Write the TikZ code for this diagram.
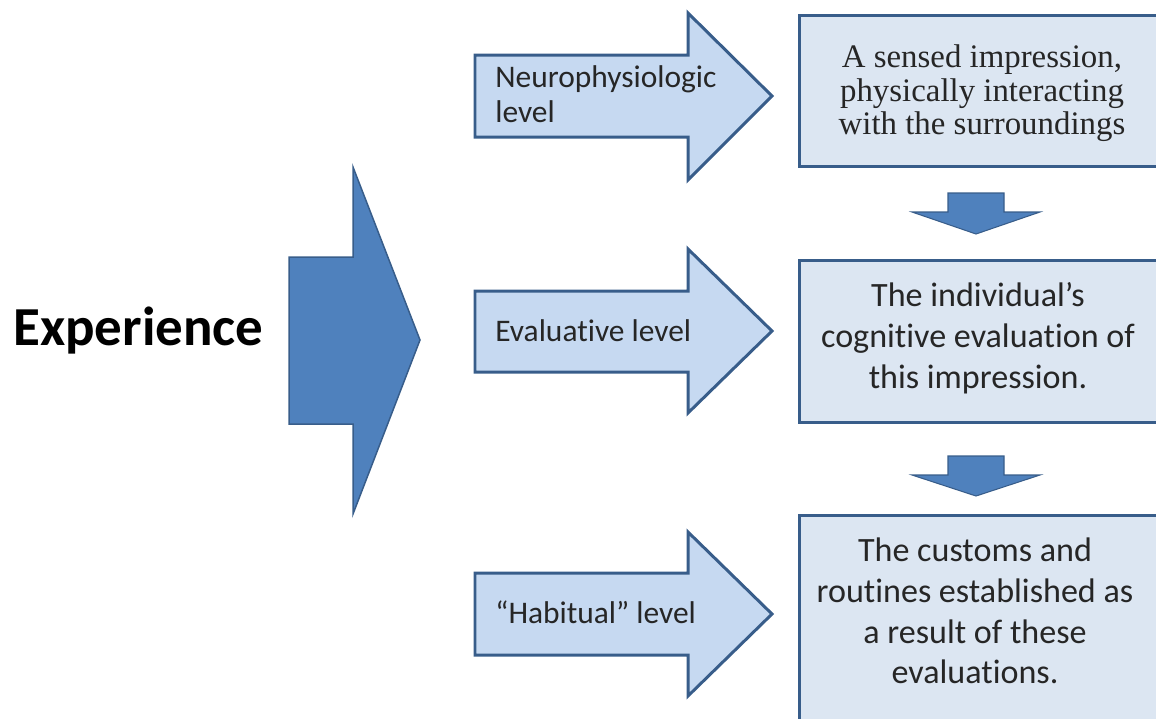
\documentclass[tikz,border=0pt]{standalone}
\usepackage{fontspec}
\usepackage{xcolor}
\usepackage{tikz}
\setmainfont{Carlito}[Ligatures={TeX,NoCommon}]
\newfontfamily\boxserif{Liberation Serif}
\definecolor{darkblue}{HTML}{4F81BD}
\definecolor{edgeblue}{HTML}{385D8A}
\definecolor{lightblue}{HTML}{C6D9F1}
\definecolor{paleblue}{HTML}{DCE6F2}

\begin{document}
\begin{tikzpicture}[x=0.02cm, y=0.02cm]
		\tikzstyle{every node}+=[inner sep=0pt]
		\tikzstyle{bigarrow}=[draw=edgeblue, line width=0.85pt, fill=darkblue, line join=miter]
		\tikzstyle{levelarrow}=[draw=edgeblue, line width=1.7pt, fill=lightblue, line join=miter]
		\tikzstyle{downarrow}=[draw=edgeblue, line width=0.6pt, fill=darkblue, line join=miter]
		\tikzstyle{infobox}=[draw=edgeblue, line width=1.7pt, fill=paleblue]
		\tikzstyle{levellabel}=[font=\fontsize{17.9pt}{19.8pt}\selectfont, text=black!85]
		\tikzstyle{boxtext}=[align=center, font=\fontsize{19.4pt}{23.2pt}\selectfont, text=black!85]
		\useasboundingbox (0,0) rectangle (1156,-718);
		\clip (0,0) rectangle (1156,-718);
		% experience arrow
		\draw [bigarrow] (289,-257) -- (353,-257) -- (353,-167) -- (420,-340) -- (353,-514) -- (353,-424) -- (289,-424) -- cycle;
		\node (experience) [anchor=base west, font=\bfseries\fontsize{31.3pt}{36pt}\selectfont] at (13,-345) {Experience};
		% level arrows
		\draw [levelarrow] (475,-55) -- (688,-55) -- (688,-13) -- (772,-96) -- (688,-180) -- (688,-137) -- (475,-137) -- cycle;
		\draw [levelarrow] (475,-291) -- (688,-291) -- (688,-249) -- (772,-331) -- (688,-413) -- (688,-372) -- (475,-372) -- cycle;
		\draw [levelarrow] (475,-573) -- (688,-573) -- (688,-532) -- (772,-614) -- (688,-696) -- (688,-655) -- (475,-655) -- cycle;
		\node (neuro) [levellabel, anchor=west, align=left] at (495,-94.5) {Neurophysiologic\\level};
		\node (evaluative) [levellabel, anchor=base west] at (495,-341) {Evaluative level};
		\node (habitual) [levellabel, anchor=base west] at (495,-623) {``Habitual'' level};
		% boxes
		\draw [infobox] (799,-15) rectangle (1162,-166);
		\draw [infobox] (799,-260) rectangle (1162,-422);
		\draw [infobox] (799,-515) rectangle (1162,-740);
		\node (sensed) [boxtext, font=\boxserif\fontsize{18.7pt}{19pt}\selectfont] at (982,-93.5) {A sensed impression,\\physically interacting\\with the surroundings};
		\node (cognitive) [boxtext] at (978,-338) {The individual's\\cognitive evaluation of\\this impression.};
		\node (customs) [boxtext] at (975,-611) {The customs and\\routines established as\\a result of these\\evaluations.};
		% down arrows
		\draw [downarrow] (948,-193) -- (1004,-193) -- (1004,-212) -- (1040,-212) -- (976,-234) -- (912,-212) -- (948,-212) -- cycle;
		\draw [downarrow] (948,-456) -- (1004,-456) -- (1004,-475) -- (1040,-475) -- (976,-496) -- (912,-475) -- (948,-475) -- cycle;
		\end{tikzpicture}
\end{document}
